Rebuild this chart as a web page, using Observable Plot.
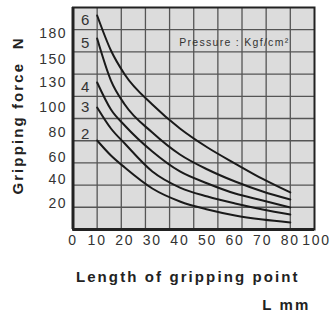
<!DOCTYPE html>
<html><head><meta charset="utf-8">
<script src="https://cdn.jsdelivr.net/npm/d3@7"></script>
<script src="https://cdn.jsdelivr.net/npm/@observablehq/plot@0.6"></script>
<style>
body{margin:0;background:#fff}
svg text{font-family:"Liberation Sans",Arial,Helvetica,sans-serif}
g[aria-label^="x-axis"] text{font-size:14px;letter-spacing:1.8px;fill:#333}
g[aria-label^="y-axis"] text{font-size:14px;letter-spacing:1.5px;fill:#333}
g[aria-description="title"] text{letter-spacing:2.1px}
g[aria-description="note"] text{letter-spacing:1.3px}
</style></head><body><div id="chart"></div>
<script>
// Length of gripping point L (mm)
const lengths = [10, 15, 20, 30, 40, 50, 60, 70, 80];
// Pressure (Kgf/cm²)
const pressures = ["2", "3", "4", "5", "6"];
// Gripping force N, one series per pressure
const force2 = [73.6, 61.6, 50.9, 32.5, 21.7, 15.4, 10.8, 7.7, 5.4];
const force3 = [100, 83.2, 71.2, 47.3, 33.3, 25.8, 20, 15.4, 11.5];
const force4 = [130, 98.4, 85.6, 64.8, 47.3, 36.7, 28.3, 22.5, 16.9];
const force5 = [174.2, 131.7, 103.6, 80, 62.4, 49.1, 38.3, 30, 23.3];
const force6 = [200.8, 160.4, 137, 103.6, 83.2, 68, 54.5, 40.5, 29.2];
// curve-number labels (value coordinates)
const labelLength = 5;
const labelForce = [78.4, 100, 124, 168.5, 195];
// axis tick labels
const xTicks = [0, 10, 20, 30, 40, 50, 60, 70, 80, 100];
const yTicks = [20, 40, 60, 80, 100, 130, 150, 180];
// chart grid lines (value coordinates)
const xGrid = [10, 18.75, 27.5, 36.25, 45, 53.75, 62.5, 71.25, 80];
const yGrid = [17.1, 35.3, 55.1, 73.4, 91.2, 113.4, 137.3, 158.8, 184.4];

const series = [force2, force3, force4, force5, force6];
const rows = pressures.flatMap((p, i) => lengths.map((x, j) => ({p, x, y: series[i][j]})));
const labels = pressures.map((p, i) => ({p, x: labelLength, y: labelForce[i]}));

const chart = Plot.plot({
  width: 331, height: 316,
  marginLeft: 72.5, marginRight: 17, marginTop: 7, marginBottom: 87,
  style: {background: "#fff", color: "#333", fontFamily: "Liberation Sans, Arial, sans-serif"},
  x: {type: "linear", domain: [0, 10, 80, 100], range: [72.5, 96.65, 289.8, 316],
      ticks: xTicks, tickSize: 0, tickPadding: 6, tickFormat: d => String(d), label: null},
  y: {type: "linear", domain: [0, 20, 40, 60, 80, 100, 130, 150, 180, 210],
      range: [229, 203, 179, 157, 132, 107, 82, 59, 33, 7],
      ticks: yTicks, tickSize: 0, tickPadding: 6, tickFormat: d => String(d), label: null},
  marks: [
    Plot.frame({fill: "#dcdcdc"}),
    Plot.ruleX(xGrid, {stroke: "#555", strokeWidth: 1.3}),
    Plot.ruleY(yGrid, {stroke: "#555", strokeWidth: 1.3}),
    Plot.line(rows, {x: "x", y: "y", z: "p", stroke: "#1a1a1a", strokeWidth: 2, curve: "monotone-x"}),
    Plot.text(labels, {x: "x", y: "y", text: "p", fontSize: 15, fill: "#333"}),
    Plot.text(["Pressure : Kgf/cm²"], {frameAnchor: "top-right", dx: -25, dy: 35, textAnchor: "end",
      lineAnchor: "middle", fontSize: 10.5, fill: "#333", ariaDescription: "note"}),
    Plot.frame({stroke: "#222", strokeWidth: 2}),
    Plot.ruleX([0], {stroke: "#222", strokeWidth: 3}),
    Plot.ruleY([0], {stroke: "#222", strokeWidth: 3}),
    Plot.text(["Gripping force  N"], {frameAnchor: "left", textAnchor: "middle", lineAnchor: "middle",
      rotate: -90, dx: -55, dy: -3,
      fontSize: 15, fontWeight: "bold", fill: "#222", ariaDescription: "title"}),
    Plot.text(["Length of gripping point"], {frameAnchor: "bottom", textAnchor: "middle", lineAnchor: "middle",
      dx: -6, dy: 48, fontSize: 15, fontWeight: "bold", fill: "#222", ariaDescription: "title"}),
    Plot.text(["L mm"], {frameAnchor: "bottom-right", textAnchor: "end", lineAnchor: "middle",
      dx: -4, dy: 76, fontSize: 15, fontWeight: "bold", fill: "#222", ariaDescription: "title"})
  ]
});
document.getElementById("chart").appendChild(chart);
</script></body></html>
